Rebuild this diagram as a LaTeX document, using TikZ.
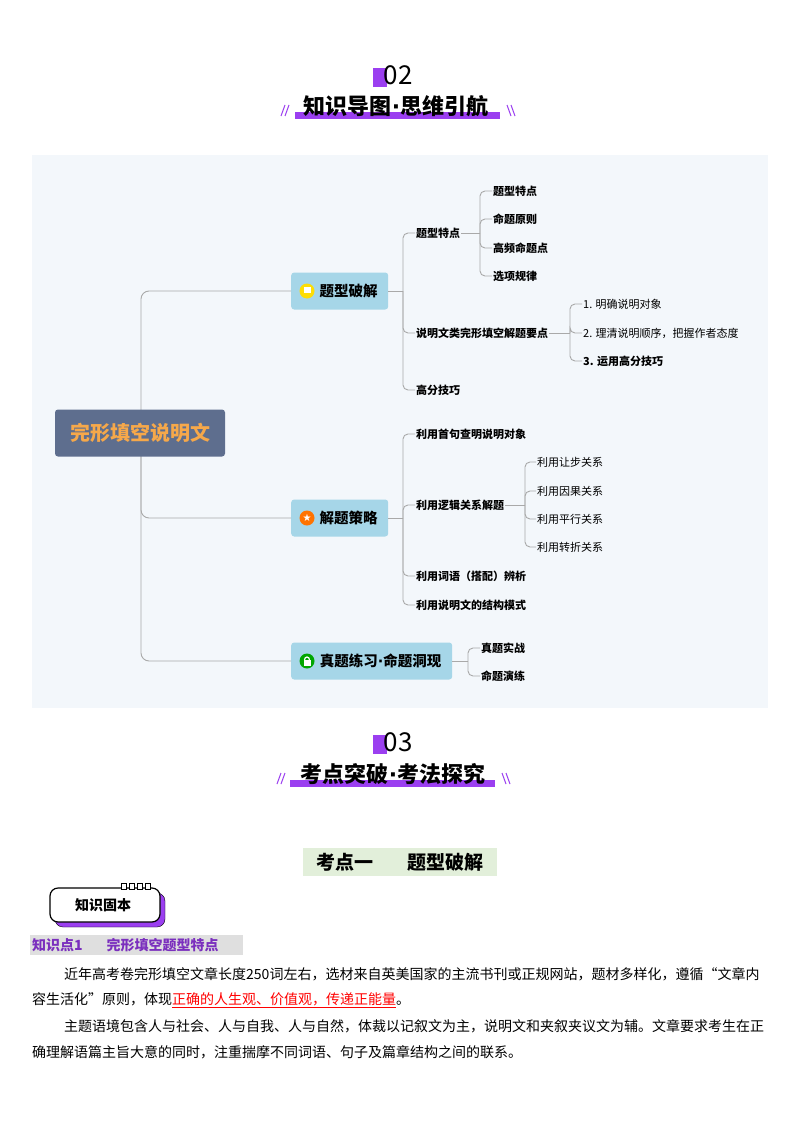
\documentclass[tikz,border=0pt]{standalone}
\usepackage{fontspec}
\setmainfont{Noto Sans CJK SC}
\newfontfamily\sym{DejaVu Sans}
\usetikzlibrary{calc}
\definecolor{purp}{HTML}{9B3FF0}
\definecolor{bgm}{HTML}{F3F7FB}
\definecolor{rootc}{HTML}{5E6E8E}
\definecolor{roott}{HTML}{F6A84A}
\definecolor{brc}{HTML}{A6D6E8}
\definecolor{lnc}{HTML}{A9A9A9}
\definecolor{kgreen}{HTML}{E2EFDA}
\definecolor{kpurp}{HTML}{7B2FBE}
\newcommand{\mdot}{{\sym\bfseries ·}}
\tikzset{
 conn/.style={draw=lnc,line width=0.9pt,rounded corners=5pt},
 branch/.style={fill=brc,rounded corners=3pt,minimum height=37pt,font=\fontsize{14.5}{16}\selectfont\bfseries,inner xsep=6pt},
 lvtwo/.style={anchor=west,inner sep=1pt,font=\fontsize{11}{13}\selectfont\bfseries},
 lvthree/.style={anchor=west,inner sep=1pt,font=\fontsize{11}{13}\selectfont},
 para/.style={anchor=west,inner sep=0pt,font=\fontsize{14}{16}\selectfont},
 ttl/.style={font=\fontsize{22}{24}\selectfont\bfseries},
}
\begin{document}
\begin{tikzpicture}[x=1pt,y=-1pt]
\useasboundingbox[fill=white] (0,0) rectangle (800,1132);
% ---- header 02
\fill[purp] (373,68) rectangle (387,87);
\node (n02) at (398,75) {\fontsize{26}{28}\selectfont 02};
\fill[purp] (295,112) rectangle (500,119);
\node[ttl] (t02) at (396,106) {知识导图\mdot 思维引航};
\draw[purp,line width=1pt] (281,116)--(285,105) (285,116)--(289,105);
\draw[purp,line width=1pt] (507,105)--(511,116) (511,105)--(515,116);
% ---- mind map background
\fill[bgm] (32,155) rectangle (768,708);
% branches
\node[branch,anchor=west,minimum width=97pt] (b1) at (291,291) {\hspace*{18pt}题型破解};
\node[branch,anchor=west,minimum width=97pt] (b2) at (291,518) {\hspace*{18pt}解题策略};
\node[branch,anchor=west,minimum width=161pt] (b3) at (291,661) {\hspace*{18pt}真题练习\mdot 命题洞现};
% root connectors (behind root)
\coordinate (rj) at (141,433);
\draw[conn,rounded corners=8pt] (rj) |- (b1.west);
\draw[conn,rounded corners=8pt] (rj) |- (b2.west);
\draw[conn,rounded corners=8pt] (rj) |- (b3.west);
\node[fill=rootc,rounded corners=3pt,minimum width=170pt,minimum height=47pt,text=roott,font=\fontsize{20}{22}\selectfont\bfseries] (root) at (140,433) {完形填空说明文};
% icons
\fill[yellow!80!orange] (307,291) circle (7.5pt);
\fill[white] (304,287) rectangle (311,293);
\fill[orange!90!red] (307,518) circle (7.5pt);
\node[text=white,inner sep=0pt,font=\sym\fontsize{10}{10}\selectfont] at (307,518) {★};
\fill[green!65!black] (307,661) circle (7.5pt);
\fill[white] (303.5,660) rectangle (310.5,666);
\draw[white,line width=1.2pt] (304.5,660) arc (180:0:2.5pt and 3pt);
% branch 1 children
\node[lvtwo] (c11) at (415,233) {题型特点};
\node[lvtwo] (c12) at (415,333) {说明文类完形填空解题要点};
\node[lvtwo] (c13) at (415,390) {高分技巧};
\coordinate (j1) at (403,291);
\draw[conn] (b1.east) -- (j1);
\foreach \c in {c11,c12,c13}{\draw[conn] (j1) |- (\c.west);}
% 题型特点 children
\node[lvtwo] (d1) at (492,191) {题型特点};
\node[lvtwo] (d2) at (492,219) {命题原则};
\node[lvtwo] (d3) at (492,248) {高频命题点};
\node[lvtwo] (d4) at (492,276) {选项规律};
\coordinate (j11) at (480,233);
\draw[conn] (c11.east) -- (j11);
\foreach \c in {d1,d2,d3,d4}{\draw[conn] (j11) |- (\c.west);}
% 说明文类 children
\node[lvthree] (e1) at (582,304) {1. 明确说明对象};
\node[lvthree] (e2) at (582,333) {2. 理清说明顺序，把握作者态度};
\node[lvtwo] (e3) at (582,361) {3. 运用高分技巧};
\coordinate (j12) at (570,333);
\draw[conn] (c12.east) -- (j12);
\foreach \c in {e1,e2,e3}{\draw[conn] (j12) |- (\c.west);}
% branch 2 children
\node[lvtwo] (f1) at (415,434) {利用首句查明说明对象};
\node[lvtwo] (f2) at (415,505) {利用逻辑关系解题};
\node[lvtwo] (f3) at (415,576) {利用词语（搭配）辨析};
\node[lvtwo] (f4) at (415,605) {利用说明文的结构模式};
\coordinate (j2) at (403,518);
\draw[conn] (b2.east) -- (j2);
\foreach \c in {f1,f2,f3,f4}{\draw[conn] (j2) |- (\c.west);}
\node[lvthree] (g1) at (536,462) {利用让步关系};
\node[lvthree] (g2) at (536,491) {利用因果关系};
\node[lvthree] (g3) at (536,519) {利用平行关系};
\node[lvthree] (g4) at (536,547) {利用转折关系};
\coordinate (j22) at (525,505);
\draw[conn] (f2.east) -- (j22);
\foreach \c in {g1,g2,g3,g4}{\draw[conn] (j22) |- (\c.west);}
% branch 3 children
\node[lvtwo] (h1) at (480,648) {真题实战};
\node[lvtwo] (h2) at (480,676) {命题演练};
\coordinate (j3) at (468,661);
\draw[conn] (b3.east) -- (j3);
\foreach \c in {h1,h2}{\draw[conn] (j3) |- (\c.west);}
% ---- header 03
\fill[purp] (373,735) rectangle (387,754);
\node (n03) at (398,742) {\fontsize{26}{28}\selectfont 03};
\fill[purp] (290,780) rectangle (495,787);
\node[ttl] (t03) at (393,774) {考点突破\mdot 考法探究};
\draw[purp,line width=1pt] (277,784)--(281,773) (281,784)--(285,773);
\draw[purp,line width=1pt] (502,773)--(506,784) (506,773)--(510,784);
% ---- kaodian
\node[fill=kgreen,minimum width=194pt,minimum height=28pt,inner sep=0pt,font=\fontsize{19}{21}\selectfont\bfseries] (kd) at (400,862) {考点一\hspace{34pt}题型破解};
% tag
\draw[fill=purp,rounded corners=8pt] (55,893) rectangle (165,927);
\draw[fill=white,line width=1.2pt,rounded corners=8pt] (50,888) rectangle (160,922);
\node[font=\fontsize{14}{16}\selectfont\bfseries] (tag) at (103,905) {知识固本};
\foreach \i in {0,1,2,3}{\draw[fill=white,line width=0.8pt] (121+\i*8,883) rectangle (126+\i*8,889);}
% knowledge point
\fill[gray!25] (30,935) rectangle (243,955);
\node[anchor=west,inner sep=0pt,text=kpurp,font=\fontsize{14}{16}\selectfont\bfseries] (kp) at (32,945) {知识点1\hspace{24pt}完形填空题型特点};
% paragraphs
\node[para] (p1) at (64,974) {近年高考卷完形填空文章长度250词左右，选材来自英美国家的主流书刊或正规网站，题材多样化，遵循“文章内};
\node[para] (p2) at (32,1000) {容生活化”原则，体现\textcolor{red}{\underline{正确的人生观、价值观，传递正能量}}。};
\node[para] (p3) at (64,1026) {主题语境包含人与社会、人与自我、人与自然，体裁以记叙文为主，说明文和夹叙夹议文为辅。文章要求考生在正};
\node[para] (p4) at (32,1052) {确理解语篇主旨大意的同时，注重揣摩不同词语、句子及篇章结构之间的联系。};
\end{tikzpicture}
\end{document}
